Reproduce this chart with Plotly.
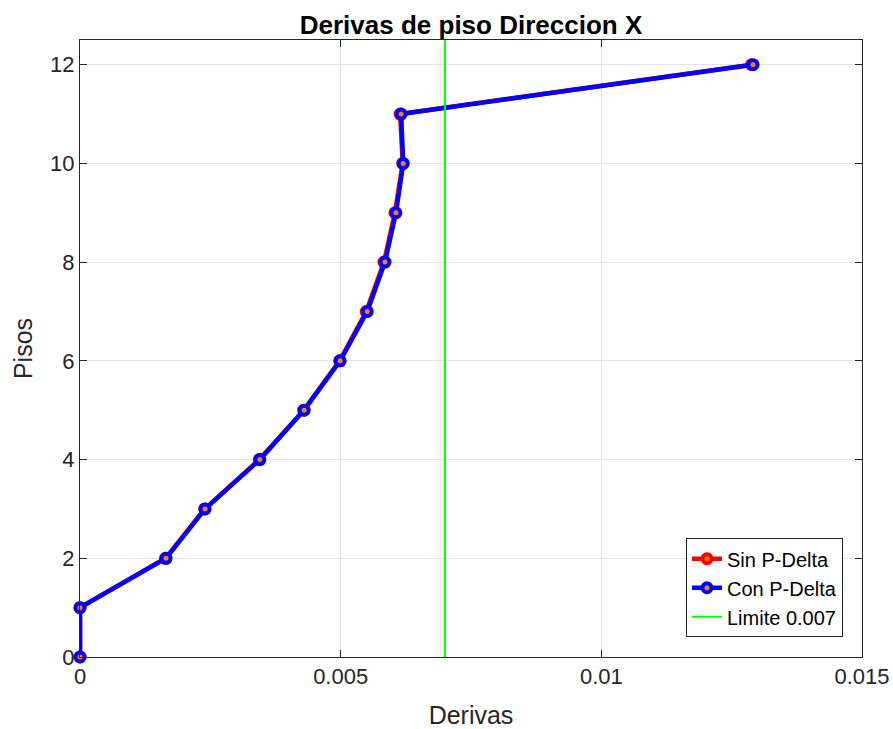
import plotly.graph_objects as go

pisos = [0, 1, 2, 3, 4, 5, 6, 7, 8, 9, 10, 11, 12]
derivas_con = [0.0, 0.0, 0.00165, 0.00240, 0.00345, 0.00430, 0.00499, 0.00551, 0.00585, 0.00606, 0.00620, 0.00616, 0.01291]
derivas_sin = [0.0, 0.0, 0.00164, 0.00239, 0.00344, 0.00429, 0.00498, 0.00549, 0.00583, 0.00604, 0.00619, 0.00614, 0.01288]
limite = 0.007
x_ticks = [0, 0.005, 0.01, 0.015]
x_tick_labels = ["0", "0.005", "0.01", "0.015"]
y_ticks = [0, 2, 4, 6, 8, 10, 12]

font_family = "Liberation Sans, Arial, sans-serif"

fig = go.Figure()
fig.add_trace(go.Scatter(
    x=derivas_sin, y=pisos, mode="lines+markers", name="Sin P-Delta",
    line=dict(color="#ff0000", width=4.5),
    marker=dict(size=9, color="#ff8000", line=dict(color="#ff0000", width=4)),
    cliponaxis=False,
))
fig.add_trace(go.Scatter(
    x=derivas_con, y=pisos, mode="lines+markers", name="Con P-Delta",
    line=dict(color="#0000ff", width=4.5),
    marker=dict(size=9, color="#ff8000", line=dict(color="#0000ff", width=4)),
    cliponaxis=False,
))
fig.add_trace(go.Scatter(
    x=[limite, limite], y=[0, 12.5], mode="lines", name="Limite 0.007",
    line=dict(color="#00ff00", width=2),
))

fig.update_layout(
    width=893, height=729,
    margin=dict(l=80, r=31, t=40, b=72),
    plot_bgcolor="white", paper_bgcolor="white",
    font=dict(family=font_family, size=20, color="#262626"),
    title=dict(text="<b>Derivas de piso Direccion X</b>", x=0.5, xanchor="center",
               xref="paper",
               y=1 - 25 / 729, yanchor="middle", font=dict(size=26, color="black")),
    xaxis=dict(
        range=[0, 0.015], tickvals=x_ticks, ticktext=x_tick_labels,
        title=dict(text="Derivas", font=dict(size=25), standoff=19),
        showgrid=True, gridcolor="#e3e3e3", gridwidth=1,
        showline=True, linecolor="#262626", linewidth=1, mirror="ticks",
        ticks="inside", ticklen=7, tickcolor="#262626", zeroline=False,
        tickfont=dict(size=22), automargin=False,
    ),
    yaxis=dict(
        range=[0, 12.5], tickvals=y_ticks,
        title=dict(text="Pisos", font=dict(size=25), standoff=10),
        showgrid=True, gridcolor="#e3e3e3", gridwidth=1,
        showline=True, linecolor="#262626", linewidth=1, mirror="ticks",
        ticks="inside", ticklen=7, tickcolor="#262626", zeroline=False,
        tickfont=dict(size=22), automargin=False,
    ),
    legend=dict(
        x=0.9757, y=0.032, xanchor="right", yanchor="bottom",
        bgcolor="white", bordercolor="#262626", borderwidth=1,
        font=dict(size=20, color="black"),
        tracegroupgap=0,
    ),
    showlegend=True,
)

fig.write_html("out.html")
